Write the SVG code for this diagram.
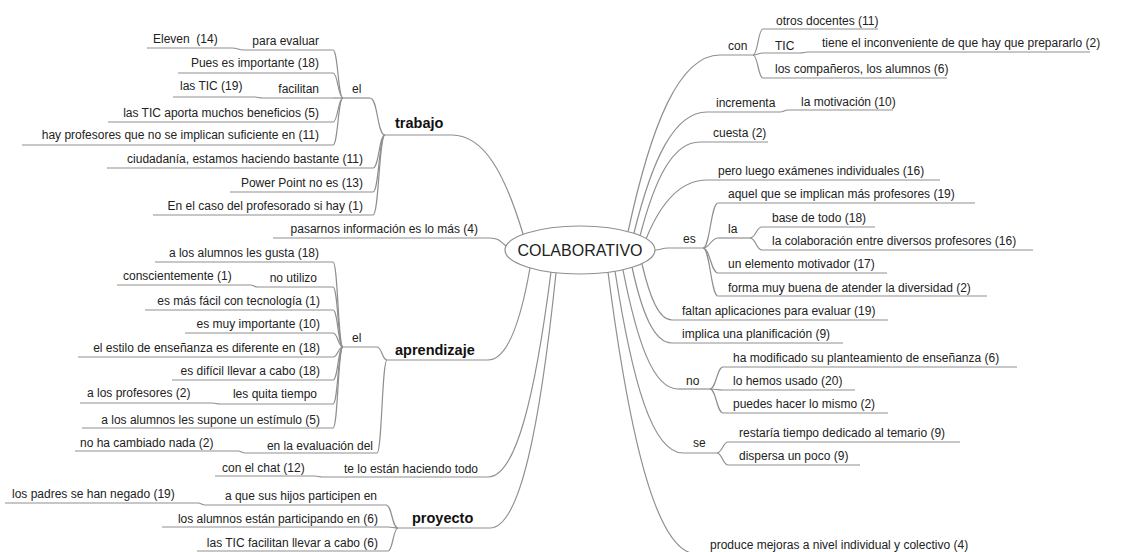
<svg xmlns="http://www.w3.org/2000/svg" width="1140" height="552" viewBox="0 0 1140 552">
<style>
text{font-family:"Liberation Sans",Arial,sans-serif;font-size:12px;fill:#222}
.e{text-anchor:end}
.b{font-weight:bold;font-size:14.5px;fill:#111}
.u{stroke:#8f8f8f;stroke-width:1.2;fill:none}
.c path{stroke:#8f8f8f;stroke-width:1.2;fill:none}
</style>
<rect width="1140" height="552" fill="#fff"/>
<g class="c" id="connectors">
<path d="M523 234 C505 174 484 135 452 135"/>
<path d="M506 246 C499 240 497 238 490 238"/>
<path d="M530 268 C520 325 507 360 488 360"/>
<path d="M551 272 C535 396 516 477 488 477"/>
<path d="M556 273 C540 426 520 528 490 528"/>
<path d="M628 232 C651 125 679 55 720 55"/>
<path d="M634 233 C652 160 674 112 707 112"/>
<path d="M640 236 C655 178 673 142 700 142"/>
<path d="M646 239 C661 202 680 180 707 180"/>
<path d="M655 250 C661 250 662 248 668 248"/>
<path d="M642 264 C650 298 659 320 672 320"/>
<path d="M632 267 C642 313 654 343 672 343"/>
<path d="M623 270 C637 341 653 389 678 389"/>
<path d="M615 271 C632 380 652 453 683 453"/>
<path d="M608 272 C630 441 657 554 697 554"/>
<path d="M333 50 C338 50 338 98 343 98"/>
<path d="M333 73 C338 73 338 98 343 98"/>
<path d="M333 98 H343"/>
<path d="M333 122 C338 122 338 98 343 98"/>
<path d="M333 145 C338 145 338 98 343 98"/>
<path d="M370 98 C378 98 377 135 385 135"/>
<path d="M373 168 C379 168 379 135 385 135"/>
<path d="M373 192 C379 192 379 135 385 135"/>
<path d="M373 215 C379 215 379 135 385 135"/>
<path d="M232 48 C238 48 238 50 244 50"/>
<path d="M255 97 C258 97 259 98 262 98"/>
<path d="M333 262 C338 262 338 347 343 347"/>
<path d="M333 287 C338 287 338 347 343 347"/>
<path d="M333 310 C338 310 338 347 343 347"/>
<path d="M333 333 C338 333 338 347 343 347"/>
<path d="M333 357 C338 357 338 347 343 347"/>
<path d="M333 380 C338 380 338 347 343 347"/>
<path d="M333 404 C338 404 338 347 343 347"/>
<path d="M333 428 C338 428 338 347 343 347"/>
<path d="M250 285 C254 285 254 287 258 287"/>
<path d="M212 403 C216 403 216 404 220 404"/>
<path d="M377 347 C382 347 382 360 387 360"/>
<path d="M377 453 C382 453 382 360 387 360"/>
<path d="M238 451 C241 451 242 453 245 453"/>
<path d="M315 476 C318 476 319 477 322 477"/>
<path d="M386 505 C392 505 392 528 398 528"/>
<path d="M388 527 C393 527 393 528 398 528"/>
<path d="M388 551 C393 551 393 528 398 528"/>
<path d="M198 503 C201 503 202 505 205 505"/>
<path d="M753 55 C758 55 758 29 763 29"/>
<path d="M753 55 C758 55 758 53 763 53"/>
<path d="M753 55 C758 55 758 78 763 78"/>
<path d="M800 53 C804 53 804 52 808 52"/>
<path d="M780 112 C784 112 784 110 788 110"/>
<path d="M703 248 C710 248 711 203 718 203"/>
<path d="M703 248 C710 248 711 238 718 238"/>
<path d="M703 248 C710 248 711 273 718 273"/>
<path d="M703 248 C710 248 711 296 718 296"/>
<path d="M750 238 C756 238 756 227 762 227"/>
<path d="M750 238 C756 238 756 250 762 250"/>
<path d="M710 389 C716 389 717 367 723 367"/>
<path d="M710 389 C716 389 717 390 723 390"/>
<path d="M710 389 C716 389 717 413 723 413"/>
<path d="M717 453 C722 453 723 442 728 442"/>
<path d="M717 453 C722 453 723 465 728 465"/>
</g>
<g id="center"><ellipse cx="580" cy="250" rx="75" ry="24" fill="#fff" stroke="#8f8f8f" stroke-width="1.2"/><text x="580" y="256" text-anchor="middle" style="font-size:16px">COLABORATIVO</text></g>
<g id="trabajo"><text class="b" x="395" y="128">trabajo</text><path class="u" d="M385 135 H452"/></g>
<g id="el-t"><text x="352" y="93">el</text><path class="u" d="M343 98 H370"/></g>
<g id="para-evaluar"><text class="e" x="319" y="45">para evaluar</text><path class="u" d="M244 50 H333"/></g>
<g id="eleven"><text x="153" y="43">Eleven&#160; (14)</text><path class="u" d="M147 48 H232"/></g>
<g id="pues"><text class="e" x="319" y="67">Pues es importante (18)</text><path class="u" d="M178 73 H333"/></g>
<g id="facilitan"><text class="e" x="319" y="93">facilitan</text><path class="u" d="M262 98 H333"/></g>
<g id="lastic19"><text x="180" y="90">las TIC (19)</text><path class="u" d="M173 97 H255"/></g>
<g id="aporta"><text class="e" x="319" y="117">las TIC aporta muchos beneficios (5)</text><path class="u" d="M108 122 H333"/></g>
<g id="hay-prof"><text class="e" x="319" y="139">hay profesores que no se implican suficiente en (11)</text><path class="u" d="M22 145 H333"/></g>
<g id="ciudadania"><text class="e" x="363" y="163">ciudadanía, estamos haciendo bastante (11)</text><path class="u" d="M107 168 H373"/></g>
<g id="powerpoint"><text class="e" x="363" y="187">Power Point no es (13)</text><path class="u" d="M230 192 H373"/></g>
<g id="encaso"><text class="e" x="363" y="210">En el caso del profesorado si hay (1)</text><path class="u" d="M153 215 H373"/></g>
<g id="pasarnos"><text class="e" x="478" y="233">pasarnos información es lo más (4)</text><path class="u" d="M273 238 H490"/></g>
<g id="aprendizaje"><text class="b" x="395" y="355">aprendizaje</text><path class="u" d="M387 360 H488"/></g>
<g id="el-a"><text x="352" y="342">el</text><path class="u" d="M343 347 H377"/></g>
<g id="gusta"><text class="e" x="319" y="257">a los alumnos les gusta (18)</text><path class="u" d="M155 262 H333"/></g>
<g id="noutilizo"><text class="e" x="317" y="282">no utilizo</text><path class="u" d="M258 287 H333"/></g>
<g id="consc"><text x="123" y="280">conscientemente (1)</text><path class="u" d="M117 285 H250"/></g>
<g id="masfacil"><text class="e" x="320" y="305">es más fácil con tecnología (1)</text><path class="u" d="M145 310 H333"/></g>
<g id="muyimp"><text class="e" x="320" y="328">es muy importante (10)</text><path class="u" d="M185 333 H333"/></g>
<g id="estilo"><text class="e" x="320" y="352">el estilo de enseñanza es diferente en (18)</text><path class="u" d="M78 357 H333"/></g>
<g id="dificil"><text class="e" x="320" y="375">es difícil llevar a cabo (18)</text><path class="u" d="M172 380 H333"/></g>
<g id="quita"><text class="e" x="317" y="398">les quita tiempo</text><path class="u" d="M220 404 H333"/></g>
<g id="profes2"><text x="87" y="397">a los profesores (2)</text><path class="u" d="M80 403 H212"/></g>
<g id="estimulo"><text class="e" x="320" y="424">a los alumnos les supone un estímulo (5)</text><path class="u" d="M82 428 H333"/></g>
<g id="evaluacion"><text class="e" x="373" y="450">en la evaluación del</text><path class="u" d="M245 453 H377"/></g>
<g id="nohacambiado"><text x="80" y="447">no ha cambiado nada (2)</text><path class="u" d="M75 451 H238"/></g>
<g id="telo"><text class="e" x="478" y="473">te lo están haciendo todo</text><path class="u" d="M322 477 H488"/></g>
<g id="chat"><text x="222" y="472">con el chat (12)</text><path class="u" d="M215 476 H315"/></g>
<g id="proyecto"><text class="b" x="412" y="523">proyecto</text><path class="u" d="M398 528 H490"/></g>
<g id="hijos"><text class="e" x="377" y="500">a que sus hijos participen en</text><path class="u" d="M205 505 H386"/></g>
<g id="padres"><text x="12" y="498">los padres se han negado (19)</text><path class="u" d="M5 503 H198"/></g>
<g id="participando"><text class="e" x="378" y="523">los alumnos están participando en (6)</text><path class="u" d="M162 527 H388"/></g>
<g id="ticfacilitan"><text class="e" x="378" y="547">las TIC facilitan llevar a cabo (6)</text><path class="u" d="M197 551 H388"/></g>
<g id="con"><text x="728" y="50">con</text><path class="u" d="M720 55 H753"/></g>
<g id="otros"><text x="776" y="25">otros docentes (11)</text><path class="u" d="M763 29 H878"/></g>
<g id="tic"><text x="775" y="50">TIC</text><path class="u" d="M763 53 H800"/></g>
<g id="inconveniente"><text x="822" y="47">tiene el inconveniente de que hay que prepararlo (2)</text><path class="u" d="M808 52 H1090"/></g>
<g id="companeros"><text x="775" y="73">los compañeros, los alumnos (6)</text><path class="u" d="M763 78 H947"/></g>
<g id="incrementa"><text x="716" y="107">incrementa</text><path class="u" d="M707 112 H780"/></g>
<g id="motivacion"><text x="801" y="106">la motivación (10)</text><path class="u" d="M788 110 H893"/></g>
<g id="cuesta"><text x="713" y="137">cuesta (2)</text><path class="u" d="M700 142 H768"/></g>
<g id="pero"><text x="718" y="175">pero luego exámenes individuales (16)</text><path class="u" d="M707 180 H940"/></g>
<g id="es"><text x="683" y="243">es</text><path class="u" d="M668 248 H703"/></g>
<g id="aquel"><text x="728" y="198">aquel que se implican más profesores (19)</text><path class="u" d="M718 203 H975"/></g>
<g id="la"><text x="728" y="233">la</text><path class="u" d="M718 238 H750"/></g>
<g id="base"><text x="772" y="222">base de todo (18)</text><path class="u" d="M762 227 H875"/></g>
<g id="colaboracion"><text x="772" y="245">la colaboración entre diversos profesores (16)</text><path class="u" d="M762 250 H1033"/></g>
<g id="elemento"><text x="728" y="268">un elemento motivador (17)</text><path class="u" d="M718 273 H887"/></g>
<g id="forma"><text x="728" y="292">forma muy buena de atender la diversidad (2)</text><path class="u" d="M718 296 H987"/></g>
<g id="faltan"><text x="682" y="315">faltan aplicaciones para evaluar (19)</text><path class="u" d="M672 320 H888"/></g>
<g id="implica"><text x="682" y="338">implica una planificación (9)</text><path class="u" d="M672 343 H843"/></g>
<g id="no"><text x="686" y="385">no</text><path class="u" d="M678 389 H710"/></g>
<g id="modificado"><text x="733" y="362">ha modificado su planteamiento de enseñanza (6)</text><path class="u" d="M723 367 H1017"/></g>
<g id="usado"><text x="733" y="385">lo hemos usado (20)</text><path class="u" d="M723 390 H855"/></g>
<g id="mismo"><text x="733" y="408">puedes hacer lo mismo (2)</text><path class="u" d="M723 413 H888"/></g>
<g id="se"><text x="693" y="447">se</text><path class="u" d="M683 453 H717"/></g>
<g id="restaria"><text x="739" y="437">restaría tiempo dedicado al temario (9)</text><path class="u" d="M728 442 H960"/></g>
<g id="dispersa"><text x="739" y="460">dispersa un poco (9)</text><path class="u" d="M728 465 H860"/></g>
<g id="produce"><text x="710" y="549">produce mejoras a nivel individual y colectivo (4)</text><path class="u" d="M697 554 H980"/></g>
</svg>
